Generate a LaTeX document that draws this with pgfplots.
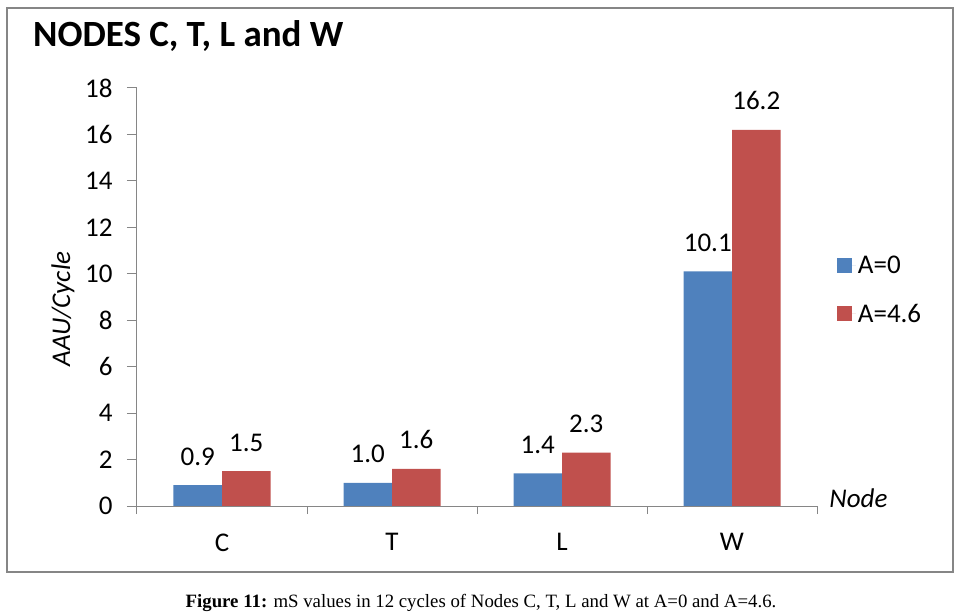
\documentclass[border=0pt]{standalone}
\usepackage{fontspec}
\setmainfont{Carlito}
\newfontfamily\capfont{Liberation Serif}
\usepackage{pgfplots}
\pgfplotsset{compat=1.18}
\definecolor{barblue}{HTML}{4F81BD}
\definecolor{barred}{HTML}{C0504D}
\definecolor{axgray}{HTML}{868686}
\newcommand{\lblfont}{\fontsize{27bp}{32bp}\selectfont}
\begin{document}
\begin{tikzpicture}
\useasboundingbox (-137bp,-106bp) rectangle (825bp,506bp);
\begin{axis}[
  at={(0,0)}, anchor=south west,
  scale only axis, width=680bp, height=418bp,
  ybar=0pt, bar width=48.5bp,
  xmin=-0.5, xmax=3.5, ymin=0, ymax=18,
  ytick={0,2,...,18},
  xtick={0,1,2,3}, xticklabels={C,T,L,W},
  minor xtick={-0.5,0.5,1.5,2.5,3.5},
  axis x line=bottom, axis y line=left,
  axis line style={-, draw=axgray, line width=1bp},
  tick align=outside,
  tick style={draw=axgray, line width=1bp},
  major tick length=10bp, minor tick length=8bp,
  major x tick style={draw=none},
  /pgf/number format/assume math mode=true,
  ticklabel style={font=\lblfont, black},
  yticklabel style={xshift=-11bp},
  xticklabel style={yshift=-14bp},
  title={NODES C, T, L and W},
  title style={at={(axis description cs:-0.153,1.086)}, anchor=base west, inner sep=0pt, font=\bfseries\fontsize{37bp}{44bp}\selectfont},
  ylabel={AAU/Cycle},
  ylabel style={at={(axis description cs:-0.1088,0.471)}, anchor=center, font=\itshape\lblfont},
  xlabel={Node},
  xlabel style={at={(axis description cs:1.061,0.018)}, anchor=center, font=\itshape\lblfont},
  nodes near coords,
  nodes near coords style={font=\lblfont, anchor=base, yshift=20bp, inner sep=0pt, black,
    /pgf/number format/.cd, fixed, fixed zerofill, precision=1, assume math mode=true},
  legend style={at={(1.029,0.517)}, anchor=west, draw=none, fill=none, inner sep=0pt,
    font=\lblfont, row sep=25bp},
  legend cell align=left,
]
\addplot[fill=barblue, draw=none, legend image code/.code={\path (0bp,0bp) -- (19bp,0bp); \fill[barblue] (0bp,-7.5bp) rectangle (15bp,7.5bp);}]
  coordinates {(0,0.9) (1,1.0) (2,1.4) (3,10.1)};
\addlegendentry{A=0}
\addplot[fill=barred, draw=none, legend image code/.code={\path (0bp,0bp) -- (19bp,0bp); \fill[barred] (0bp,-7.5bp) rectangle (15bp,7.5bp);}]
  coordinates {(0,1.5) (1,1.6) (2,2.3) (3,16.2)};
\addlegendentry{A=4.6}
\end{axis}
\draw[axgray, line width=1.5bp] (-130bp,498bp) rectangle (816bp,-66bp);
\node[anchor=base, font=\capfont\fontsize{18.8bp}{21bp}\selectfont] at (344bp,-101bp)
  {\textbf{Figure 11:} mS values in 12 cycles of Nodes C, T, L and W at A=0 and A=4.6.};
\end{tikzpicture}
\end{document}
